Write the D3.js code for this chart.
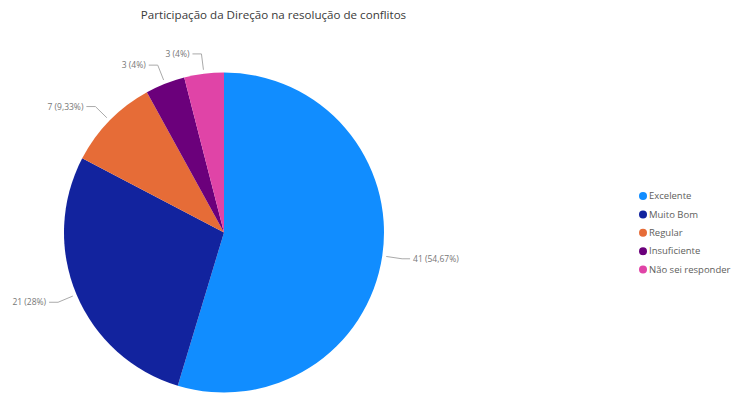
<!DOCTYPE html>
<html>
<head>
<meta charset="utf-8">
<script src="https://cdn.jsdelivr.net/npm/d3@7"></script>
<style>
  html, body { margin: 0; padding: 0; background: #fff; }
  svg { display: block; }
</style>
</head>
<body>
<svg id="chart" width="739" height="394"></svg>
<script>
const title = "Participação da Direção na resolução de conflitos";
const categories = ["Excelente", "Muito Bom", "Regular", "Insuficiente", "Não sei responder"];
const counts = [41, 21, 7, 3, 3];
const percentLabels = ["54,67%", "28%", "9,33%", "4%", "4%"];
const colors = ["#118DFF", "#12239E", "#E66C37", "#6B007B", "#E044A7"];

const svg = d3.select("#chart");
const font = "'Open Sans', 'Noto Sans', sans-serif";

const cx = 224, cy = 232.5, radius = 160;

svg.append("text")
  .attr("x", 273.5).attr("y", 19)
  .attr("text-anchor", "middle")
  .attr("font-family", font)
  .attr("font-size", 11.6)
  .attr("fill", "#3a3a3a")
  .text(title);

const data = categories.map((c, i) => ({ name: c, value: counts[i], pct: percentLabels[i], color: colors[i] }));

const pie = d3.pie().sort(null).value(d => d.value);
const arcs = pie(data);
const arc = d3.arc().innerRadius(0).outerRadius(radius);

const g = svg.append("g").attr("transform", `translate(${cx},${cy})`);

g.selectAll("path.slice")
  .data(arcs)
  .join("path")
  .attr("class", "slice")
  .attr("d", arc)
  .attr("fill", d => d.data.color);

// leader lines: start just outside the rim, bend at r+20, then run horizontally
const startArc = d3.arc().innerRadius(radius + 4).outerRadius(radius + 4);
const elbowArc = d3.arc().innerRadius(radius + 20).outerRadius(radius + 20);

arcs.forEach(d => {
  const mid = (d.startAngle + d.endAngle) / 2;
  const right = Math.sin(mid) > 0;
  const p0 = startArc.centroid(d);
  const p1 = elbowArc.centroid(d);
  const p2 = [p1[0] + (right ? 8 : -9), p1[1]];
  g.append("polyline")
    .attr("points", [p0, p1, p2].map(p => p.join(",")).join(" "))
    .attr("fill", "none")
    .attr("stroke", "#aaa")
    .attr("stroke-width", 1);
  g.append("text")
    .attr("x", p2[0] + (right ? 3 : -3))
    .attr("y", p2[1])
    .attr("dy", "0.35em")
    .attr("text-anchor", right ? "start" : "end")
    .attr("font-family", font)
    .attr("font-size", 8.5)
    .attr("fill", "#777")
    .text(`${d.data.value} (${d.data.pct})`);
});

// legend
const legendY = d3.scalePoint().domain(categories).range([196, 269.5]);
const legend = svg.append("g");
categories.forEach((c, i) => {
  const y = legendY(c);
  legend.append("circle")
    .attr("cx", 643).attr("cy", y).attr("r", 4)
    .attr("fill", colors[i]);
  legend.append("text")
    .attr("x", 649).attr("y", y)
    .attr("dy", "0.35em")
    .attr("font-family", font)
    .attr("font-size", 9.5)
    .attr("fill", "#605E5C")
    .text(c);
});
</script>
</body>
</html>
